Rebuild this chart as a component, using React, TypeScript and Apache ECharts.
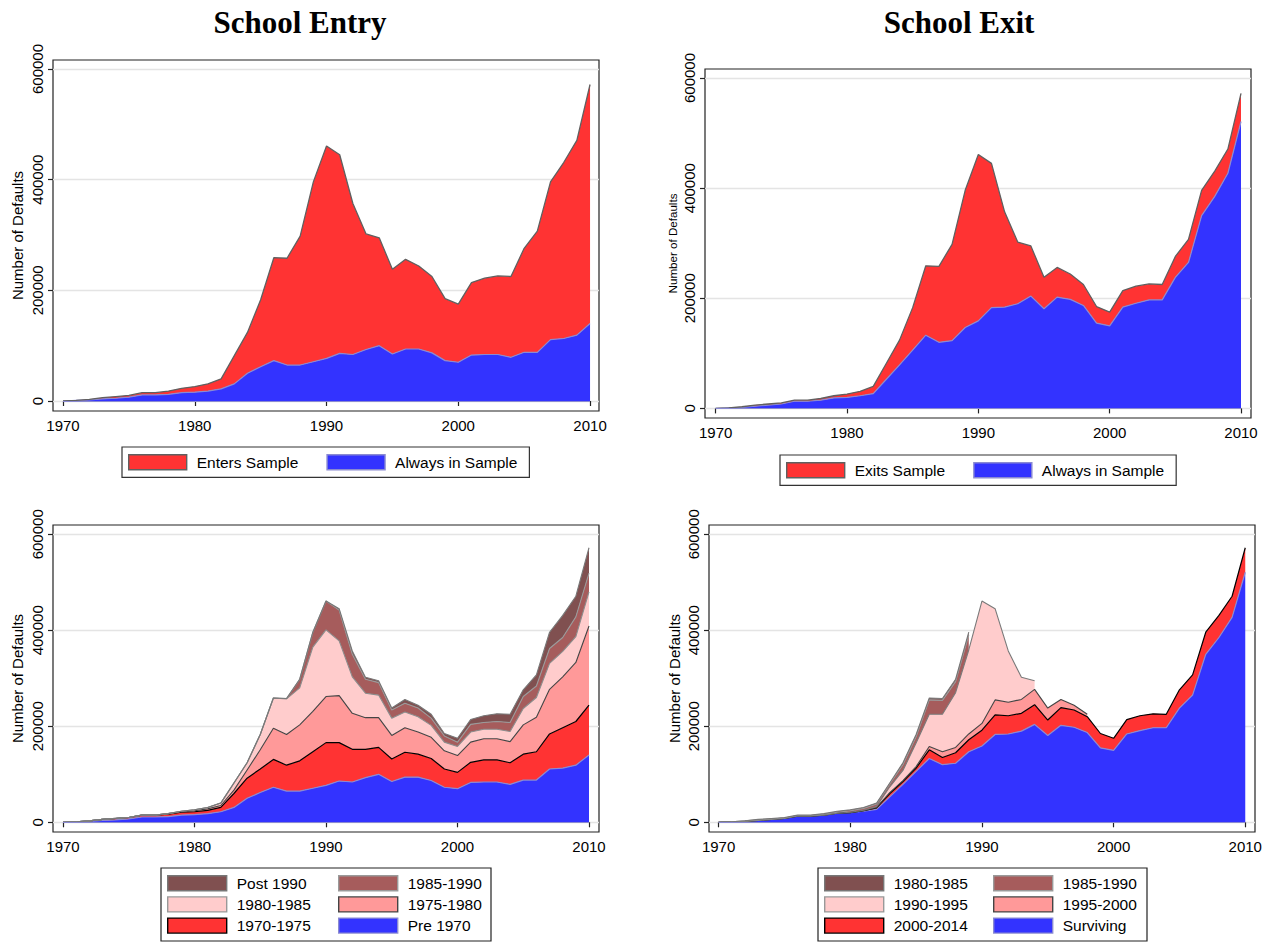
import React, { useEffect, useRef } from "react";
import * as echarts from "echarts";

// ---------------- DATA (values in thousands of defaults) ----------------
const years = [
  1970, 1971, 1972, 1973, 1974, 1975, 1976, 1977, 1978, 1979,
  1980, 1981, 1982, 1983, 1984, 1985, 1986, 1987, 1988, 1989,
  1990, 1991, 1992, 1993, 1994, 1995, 1996, 1997, 1998, 1999,
  2000, 2001, 2002, 2003, 2004, 2005, 2006, 2007, 2008, 2009, 2010,
];
const xTickLabels = [1970, 1980, 1990, 2000, 2010];
const yTickLabels = [0, 200000, 400000, 600000];

// School Entry (top-left)
const alwaysInSampleEntryK = [0, 1, 2, 4, 5, 7, 11, 11, 12, 15, 16, 18, 22, 31, 50, 62, 73, 65, 65, 71, 77, 86, 84, 93, 100, 85, 94, 94, 87, 73, 70, 83, 84, 84, 79, 88, 88, 111, 113, 119, 140];
const entersSampleK = [0, 0, 1, 2, 3, 3, 4, 4, 6, 8, 10, 13, 18, 51, 74, 121, 186, 193, 233, 325, 384, 359, 273, 209, 195, 153, 162, 150, 138, 112, 105, 131, 138, 142, 146, 188, 219, 285, 318, 352, 432];

// School Exit (top-right)
const alwaysInSampleExitK = [0, 1, 2, 4, 6, 8, 13, 13, 15, 19, 20, 23, 27, 53, 79, 106, 133, 120, 123, 147, 159, 183, 184, 190, 204, 181, 202, 198, 187, 155, 150, 184, 191, 197, 197, 238, 265, 350, 385, 427, 521];
const exitsSampleK = [0, 0, 1, 2, 2, 2, 2, 2, 3, 4, 6, 8, 13, 29, 45, 77, 126, 138, 175, 249, 302, 262, 173, 112, 91, 57, 54, 46, 38, 30, 25, 30, 31, 29, 28, 38, 42, 46, 46, 44, 51];

// Entry cohorts (bottom-left)
const pre1970K = [0, 1, 2, 4, 5, 7, 11, 11, 12, 15, 16, 18, 22, 31, 50, 62, 73, 65, 65, 71, 77, 86, 84, 93, 100, 85, 94, 94, 87, 73, 70, 83, 84, 84, 79, 88, 88, 111, 113, 119, 140];
const entry7075K = [0, 0, 1, 2, 3, 3, 4, 4, 5, 6, 6, 7, 9, 29, 42, 49, 58, 54, 63, 76, 89, 80, 68, 59, 56, 47, 52, 48, 46, 38, 34, 42, 46, 46, 45, 54, 59, 73, 84, 91, 104];
const entry7580K = [0, 0, 0, 0, 0, 0, 0, 0, 1, 1, 2, 3, 4, 7, 17, 40, 65, 64, 75, 84, 96, 98, 75, 66, 62, 49, 51, 46, 44, 38, 35, 42, 44, 44, 44, 61, 72, 93, 106, 123, 165];
const entry8085K = [0, 0, 0, 0, 0, 0, 0, 0, 0, 1, 2, 3, 5, 15, 15, 32, 63, 74, 77, 134, 139, 114, 76, 51, 47, 36, 33, 32, 25, 18, 19, 21, 20, 20, 21, 34, 41, 54, 53, 54, 71];
const entry8590K = [0, 0, 0, 0, 0, 0, 0, 0, 0, 0, 0, 0, 0, 0, 0, 0, 0, 1, 18, 31, 60, 64, 47, 29, 26, 17, 18, 18, 15, 13, 9, 16, 14, 16, 19, 25, 24, 31, 29, 41, 39];
const entryPost90K = [0, 0, 0, 0, 0, 0, 0, 0, 0, 0, 0, 0, 0, 0, 0, 0, 0, 0, 0, 0, 0, 3, 7, 4, 4, 4, 8, 6, 8, 5, 8, 10, 14, 16, 17, 14, 23, 34, 46, 43, 53];

// Exit cohorts (bottom-right)
const survivingK = [0, 1, 2, 4, 6, 8, 13, 13, 15, 19, 20, 23, 27, 53, 79, 106, 133, 120, 123, 147, 159, 183, 184, 190, 204, 181, 202, 198, 187, 155, 150, 184, 191, 197, 197, 238, 265, 350, 385, 427, 521];
const exit0014K = [0, 0, 0, 0, 0, 0, 0, 0, 0, 0, 0, 1, 3, 7, 6, 7, 18, 15, 22, 25, 33, 41, 38, 37, 41, 32, 37, 36, 33, 30, 25, 30, 31, 29, 28, 38, 42, 46, 46, 44, 51];
const exit9500K = [0, 0, 0, 0, 0, 0, 0, 0, 0, 0, 0, 0, 1, 2, 2, 3, 7, 12, 11, 12, 14, 31, 28, 29, 32, 25, 17, 10, 5, null, null, null, null, null, null, null, null, null, null, null, null];
const exit9095K = [0, 0, 0, 0, 0, 0, 0, 0, 0, 0, 1, 1, 2, 12, 21, 49, 67, 78, 114, 175, 255, 190, 107, 46, 18, null, null, null, null, null, null, null, null, null, null, null, null, null, null, null, null];
const exit8590K = [0, 0, 1, 1, 1, 1, 1, 1, 2, 2, 3, 4, 5, 6, 12, 13, 30, 29, 23, 31, null, null, null, null, null, null, null, null, null, null, null, null, null, null, null, null, null, null, null, null, null];
const exit8085K = [0, 0, 0, 1, 1, 1, 1, 1, 1, 2, 2, 2, 2, 2, 4, 5, 4, 4, 5, 6, null, null, null, null, null, null, null, null, null, null, null, null, null, null, null, null, null, null, null, null, null];

// ---------------- STYLE ----------------
const RED = "#ff3333";
const BLUE = "#3333ff";
const SALMON = "#ff9999";
const PINK = "#ffcccc";
const DUSKY = "#a65c5c";
const DARK = "#805050";
const LAV = "#8a8ad2";
const SANS = "'Liberation Sans', Arial, Helvetica, sans-serif";
const SERIF = "'Liberation Serif', 'Times New Roman', serif";

function layer(name: string, values: (number | null)[], idx: number, fill: string, stroke: string, width = 1.2, baseline = false) {
  const s: any = {
    type: "line",
    name,
    xAxisIndex: idx,
    yAxisIndex: idx,
    stack: "p" + idx,
    // value first so that the stacked dimension is the y value
    dimensions: ["value", "year"],
    encode: { x: 1, y: 0 },
    data: years.map((y, i) => [values[i] == null ? null : (values[i] as number) * 1000, y]),
    showSymbol: false,
    symbol: "none",
    connectNulls: false,
    lineStyle: { color: stroke, width },
    areaStyle: { color: fill, opacity: 1 },
    itemStyle: { color: fill },
    emphasis: { disabled: true },
    silent: true,
    z: 3,
  };
  if (baseline) {
    s.markLine = {
      silent: true,
      symbol: ["none", "none"],
      label: { show: false },
      lineStyle: { color: LAV, width: 1.2, type: "solid" },
      data: [[{ coord: [1970, 0] }, { coord: [2010, 0] }]],
    };
  }
  return s;
}

type GridSpec = { left: number; top: number; width: number; height: number; xmin: number; xmax: number; ymin: number; ymax: number; nameGap: number; nameSize: number };

const grids: GridSpec[] = [
  { left: 53, top: 60, width: 546, height: 351, xmin: 1969.24, xmax: 2010.68, ymin: -18070, ymax: 616270, nameGap: 28, nameSize: 15 },
  { left: 705, top: 69, width: 546, height: 349, xmin: 1969.19, xmax: 2010.76, ymin: -17420, ymax: 616330, nameGap: 27, nameSize: 11.6 },
  { left: 53, top: 525, width: 546, height: 307, xmin: 1969.24, xmax: 2010.76, ymin: -20210, ymax: 619380, nameGap: 28, nameSize: 15 },
  { left: 709, top: 525, width: 546, height: 307, xmin: 1969.27, xmax: 2010.74, ymin: -20210, ymax: 619380, nameGap: 27, nameSize: 15 },
];

function legendItem(name: string, color: string, border: string) {
  return { name, icon: "rect", itemStyle: { color, borderColor: border, borderWidth: 1.4 } };
}

const legendText = { fontSize: 15.5, fontFamily: SANS, color: "#000", lineHeight: 15, padding: [0, 0, 0, 5] };

export default function App() {
  const ref = useRef<HTMLDivElement>(null);

  useEffect(() => {
    if (!ref.current) return;
    const chart = echarts.init(ref.current, undefined, { renderer: "svg" });

    const axisLineStyle = { color: "#222", width: 1.2 };
    const option: any = {
      animation: false,
      backgroundColor: "#ffffff",
      textStyle: { fontFamily: SANS },
      grid: grids.map((g) => ({
        left: g.left,
        top: g.top,
        width: g.width,
        height: g.height,
        show: true,
        borderColor: "#222",
        borderWidth: 1.2,
        backgroundColor: "transparent",
        containLabel: false,
        outerBoundsMode: "none",
      })),
      xAxis: grids.map((g, i) => ({
        type: "value",
        gridIndex: i,
        min: g.xmin,
        max: g.xmax,
        axisLine: { show: false },
        splitLine: { show: false },
        axisTick: { show: true, inside: false, length: 5, lineStyle: axisLineStyle, customValues: xTickLabels },
        axisLabel: {
          customValues: xTickLabels,
          formatter: (v: number) => String(v),
          color: "#000",
          fontSize: 15,
          fontFamily: SANS,
          margin: 7,
        },
      })),
      yAxis: grids.map((g, i) => ({
        type: "value",
        gridIndex: i,
        min: g.ymin,
        max: g.ymax,
        axisLine: { show: false },
        axisTick: { show: true, inside: false, length: 5, lineStyle: axisLineStyle, customValues: yTickLabels },
        axisLabel: {
          customValues: yTickLabels,
          rotate: 90,
          formatter: (v: number) => String(v),
          color: "#000",
          fontSize: 15,
          fontFamily: SANS,
          margin: 8,
        },
        splitLine: { show: true, lineStyle: { color: "#e4e4e4", width: 1.4 } },
        name: "Number of Defaults",
        nameLocation: "middle",
        nameGap: g.nameGap,
        nameTextStyle: { fontSize: g.nameSize, fontFamily: SANS, color: "#000" },
      })),
      legend: [
        {
          left: 122, top: 447, orient: "horizontal", itemWidth: 58, itemHeight: 15, itemGap: 28,
          padding: [7, 12, 7, 6], borderColor: "#333", borderWidth: 1.2, selectedMode: false,
          textStyle: legendText,
          data: [legendItem("Enters Sample", RED, "#606060"), legendItem("Always in Sample", BLUE, LAV)],
        },
        {
          left: 780, top: 455, orient: "horizontal", itemWidth: 58, itemHeight: 15, itemGap: 28,
          padding: [7, 12, 7, 6], borderColor: "#333", borderWidth: 1.2, selectedMode: false,
          textStyle: legendText,
          data: [legendItem("Exits Sample", RED, "#606060"), legendItem("Always in Sample", BLUE, LAV)],
        },
        {
          left: 167, top: 875, orient: "vertical", itemWidth: 59, itemHeight: 15, itemGap: 4.8, padding: 0, selectedMode: false,
          textStyle: legendText,
          data: [legendItem("Post 1990", DARK, "#777777"), legendItem("1980-1985", PINK, "#999999"), legendItem("1970-1975", RED, "#000000")],
        },
        {
          left: 338, top: 875, orient: "vertical", itemWidth: 59, itemHeight: 15, itemGap: 4.8, padding: 0, selectedMode: false,
          textStyle: legendText,
          data: [legendItem("1985-1990", DUSKY, "#9a9a9a"), legendItem("1975-1980", SALMON, "#444444"), legendItem("Pre 1970", BLUE, LAV)],
        },
        {
          left: 824, top: 875, orient: "vertical", itemWidth: 59, itemHeight: 15, itemGap: 4.8, padding: 0, selectedMode: false,
          textStyle: legendText,
          data: [legendItem("1980-1985", DARK, "#777777"), legendItem("1990-1995", PINK, "#999999"), legendItem("2000-2014", RED, "#000000")],
        },
        {
          left: 993, top: 875, orient: "vertical", itemWidth: 59, itemHeight: 15, itemGap: 4.8, padding: 0, selectedMode: false,
          textStyle: legendText,
          data: [legendItem("1985-1990", DUSKY, "#9a9a9a"), legendItem("1995-2000", SALMON, "#444444"), legendItem("Surviving", BLUE, LAV)],
        },
      ],
      graphic: [
        { type: "text", x: 300, y: 22, style: { text: "School Entry", font: `bold 31px ${SERIF}`, fill: "#000", textAlign: "center", textVerticalAlign: "middle" } },
        { type: "text", x: 959, y: 22, style: { text: "School Exit", font: `bold 31px ${SERIF}`, fill: "#000", textAlign: "center", textVerticalAlign: "middle" } },
        { type: "rect", shape: { x: 161, y: 868, width: 330, height: 73 }, style: { fill: "none", stroke: "#222", lineWidth: 1.2 } },
        { type: "rect", shape: { x: 818, y: 868, width: 329, height: 73 }, style: { fill: "none", stroke: "#222", lineWidth: 1.2 } },
      ],
      series: [
        // Panel 0: School Entry
        layer("Always in Sample", alwaysInSampleEntryK, 0, BLUE, LAV, 1.2, true),
        layer("Enters Sample", entersSampleK, 0, RED, "#606060", 1.3),
        // Panel 1: School Exit
        layer("Always in Sample", alwaysInSampleExitK, 1, BLUE, LAV, 1.2, true),
        layer("Exits Sample", exitsSampleK, 1, RED, "#606060", 1.3),
        // Panel 2: entry cohorts
        layer("Pre 1970", pre1970K, 2, BLUE, LAV, 1.2, true),
        layer("1970-1975", entry7075K, 2, RED, "#000000", 1.2),
        layer("1975-1980", entry7580K, 2, SALMON, "#444444", 1.1),
        layer("1980-1985", entry8085K, 2, PINK, "#8c8c8c", 1.1),
        layer("1985-1990", entry8590K, 2, DUSKY, "#9a9a9a", 1.1),
        layer("Post 1990", entryPost90K, 2, DARK, "#777777", 1.1),
        // Panel 3: exit cohorts
        layer("Surviving", survivingK, 3, BLUE, LAV, 1.2, true),
        layer("2000-2014", exit0014K, 3, RED, "#000000", 1.2),
        layer("1995-2000", exit9500K, 3, SALMON, "#444444", 1.1),
        layer("1990-1995", exit9095K, 3, PINK, "#7a7a7a", 1.1),
        layer("1985-1990", exit8590K, 3, DUSKY, "#9a9a9a", 1.1),
        layer("1980-1985", exit8085K, 3, DARK, "#777777", 1.1),
      ],
    };

    chart.setOption(option);
    return () => chart.dispose();
  }, []);

  return <div ref={ref} style={{ position: "absolute", left: 0, top: 0, width: 1280, height: 942, background: "#fff" }} />;
}
